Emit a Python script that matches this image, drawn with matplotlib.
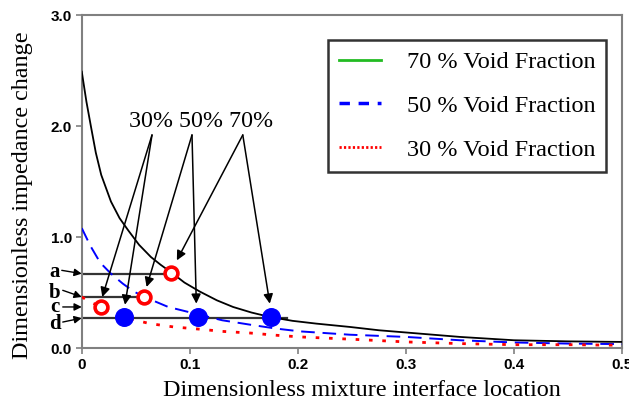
import matplotlib
matplotlib.use("Agg")
import matplotlib.pyplot as plt
from matplotlib.lines import Line2D

# ---- data ----
x_70 = [0.0, 0.0043, 0.0086, 0.013, 0.018, 0.027, 0.035, 0.043, 0.053, 0.064, 0.073, 0.083,
        0.095, 0.109, 0.125, 0.140, 0.157, 0.174, 0.195, 0.217, 0.248, 0.275, 0.30, 0.35,
        0.40, 0.45, 0.50]
y_70 = [2.49, 2.22, 1.99, 1.76, 1.56, 1.32, 1.17, 1.06, 0.93, 0.82, 0.75, 0.68,
        0.59, 0.51, 0.43, 0.37, 0.32, 0.28, 0.245, 0.22, 0.19, 0.16, 0.14, 0.10,
        0.07, 0.06, 0.055]

x_50 = [0.0, 0.008, 0.017, 0.027, 0.038, 0.048, 0.058, 0.08, 0.109, 0.13, 0.156, 0.18,
        0.202, 0.248, 0.30, 0.35, 0.40, 0.45, 0.50]
y_50 = [1.08, 0.92, 0.77, 0.67, 0.58, 0.51, 0.46, 0.37, 0.30, 0.25, 0.21, 0.175,
        0.15, 0.12, 0.10, 0.07, 0.05, 0.04, 0.035]

x_30 = [0.0, 0.009, 0.018, 0.028, 0.039, 0.05, 0.063, 0.085, 0.109, 0.13, 0.156, 0.18,
        0.202, 0.248, 0.30, 0.35, 0.40, 0.45, 0.50]
y_30 = [0.46, 0.41, 0.37, 0.32, 0.28, 0.25, 0.22, 0.19, 0.17, 0.15, 0.135, 0.115,
        0.10, 0.08, 0.055, 0.04, 0.03, 0.03, 0.025]

open_x = [0.018, 0.058, 0.083]
open_y = [0.37, 0.46, 0.68]
fill_x = [0.039, 0.108, 0.175]
fill_y = [0.28, 0.28, 0.28]

level_labels = ["a", "b", "c", "d"]
level_y = [0.67, 0.46, 0.37, 0.27]
level_xend = [0.083, 0.058, 0.0, 0.19]
label_xy = [(-0.025, 0.685), (-0.025, 0.50), (-0.025, 0.37), (-0.025, 0.215)]
tail_xy = [(-0.0185, 0.70), (-0.0176, 0.52), (-0.0176, 0.37), (-0.0176, 0.234)]

group_text = "30% 50% 70%"
apex_x = [0.065, 0.102, 0.149]
apex_y = 1.92
tips_open = [(0.019, 0.46), (0.060, 0.55), (0.088, 0.79)]
tips_fill = [(0.040, 0.39), (0.106, 0.40), (0.174, 0.40)]

legend_labels = ["70 % Void Fraction", "50 % Void Fraction", "30 % Void Fraction"]

xticks = [0, 0.1, 0.2, 0.3, 0.4, 0.5]
xticklabels = ["0", "0.1", "0.2", "0.3", "0.4", "0.5"]
yticks = [0.0, 1.0, 2.0, 3.0]
yticklabels = ["0.0", "1.0", "2.0", "3.0"]

serif = ["Liberation Serif", "DejaVu Serif"]
sans = ["Liberation Sans", "DejaVu Sans"]

fig = plt.figure(figsize=(6.29, 4.08), dpi=100)
ax = fig.add_axes([0.130, 0.147, 0.859, 0.816])

ax.plot(x_70, y_70, color="black", lw=1.3, zorder=3)
ax.plot(x_50, y_50, color="blue", lw=1.4, dashes=(7, 4), zorder=3)
ax.plot(x_30, y_30, color="red", lw=2.0, dashes=(1.3, 3.5), zorder=3)

for yl, xe in zip(level_y, level_xend):
    if xe > 0:
        ax.plot([0, xe], [yl, yl], color="#333333", lw=1.6, zorder=2)

ax.scatter(open_x, open_y, s=85, facecolors="white", edgecolors="red", linewidths=2.6, zorder=5)
ax.scatter(fill_x, fill_y, s=160, color="blue", zorder=5)

for lab, (lx, ly), (tx, ty), yl in zip(level_labels, label_xy, tail_xy, level_y):
    ax.text(lx, ly, lab, fontsize=15, fontweight="bold", family=serif,
            ha="center", va="center", clip_on=False)
    ax.annotate("", xy=(0.0, yl), xytext=(tx, ty),
                arrowprops=dict(arrowstyle="-|>", color="black", lw=1.0,
                                mutation_scale=11, shrinkA=0, shrinkB=0),
                annotation_clip=False)

for ax_x, to, tf in zip(apex_x, tips_open, tips_fill):
    for tip in (to, tf):
        ax.annotate("", xy=tip, xytext=(ax_x, apex_y),
                    arrowprops=dict(arrowstyle="-|>", color="black", lw=1.1,
                                    mutation_scale=14, shrinkA=0, shrinkB=0),
                    zorder=4)
ax.text(0.110, 2.04, group_text, fontsize=17.3, family=serif,
        ha="center", va="center")

handles = [Line2D([], [], color="#22bb22", lw=2),
           Line2D([], [], color="blue", lw=2.5, dashes=(3, 2.5)),
           Line2D([], [], color="red", lw=2, dashes=(0.8, 0.8))]
leg = ax.legend(handles, legend_labels, loc="upper left",
                bbox_to_anchor=(0.455, 0.925), prop={"family": serif, "size": 17.5},
                frameon=True, fancybox=False, edgecolor="black",
                handlelength=1.75, handletextpad=1.05, labelspacing=0.9,
                borderpad=0.45, borderaxespad=0)
leg.get_frame().set_linewidth(1.8)

ax.set_xlim(0, 0.5)
ax.set_ylim(0, 3.0)
ax.set_xticks(xticks)
ax.set_xticklabels(xticklabels, fontsize=11, fontweight="bold", family=sans)
ax.set_yticks(yticks)
ax.set_yticklabels(yticklabels, fontsize=11, fontweight="bold", family=sans)
ax.tick_params(direction="out", length=4, width=1.2, color="#808080", pad=3)
for sp in ax.spines.values():
    sp.set_color("#808080")
    sp.set_linewidth(1.5)

ax.set_xlabel("Dimensionless mixture interface location", fontsize=17.4, family=serif)
ax.set_ylabel("Dimensionless impedance change", fontsize=17.4, family=serif)
ax.xaxis.set_label_coords(0.518, -0.095)
ax.yaxis.set_label_coords(-0.09, 0.458)

fig.savefig("out.png", dpi=100)
